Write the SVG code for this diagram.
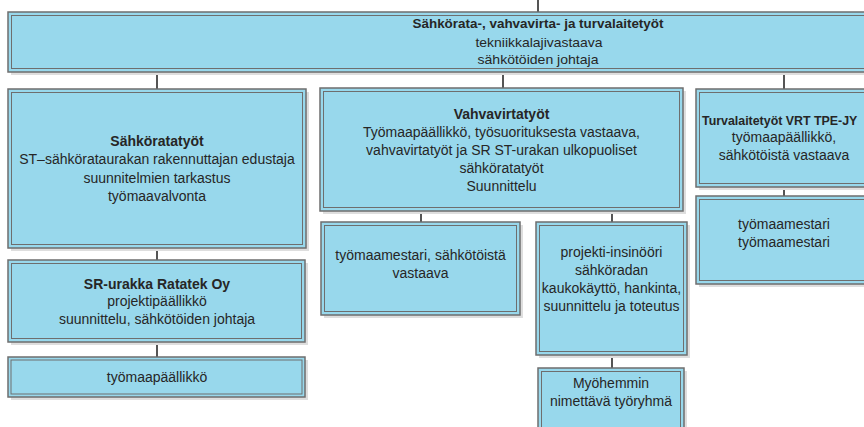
<svg xmlns="http://www.w3.org/2000/svg" width="864" height="427" viewBox="0 0 864 427">
<style>
.sh{fill:#dedede}
.o{fill:#98d8ec;stroke:#6e6e6e;stroke-width:1.5}
.i{fill:none;stroke:#6e6e6e;stroke-width:1}
text{font-family:"Liberation Sans",Arial,sans-serif;font-size:14px;fill:#262626;text-anchor:middle}
.b{font-weight:bold}
.c line{stroke:#555;stroke-width:2}
</style>
<rect width="864" height="427" fill="#fff"/>
<g class="c" id="connectors">
<line x1="538" y1="0" x2="538" y2="12"/>
<line x1="157" y1="72" x2="157" y2="89"/>
<line x1="503" y1="72" x2="503" y2="88"/>
<line x1="784" y1="72" x2="784" y2="89"/>
<line x1="157" y1="248" x2="157" y2="260"/>
<line x1="157" y1="342" x2="157" y2="357"/>
<line x1="421" y1="211" x2="421" y2="222"/>
<line x1="612" y1="211" x2="612" y2="222"/>
<line x1="612" y1="355" x2="612" y2="368"/>
<line x1="784" y1="187" x2="784" y2="196"/>
</g>
<g id="top">
<rect class="sh" x="11" y="15" width="1060" height="60"/>
<rect class="o" x="8" y="12" width="1060" height="60"/>
<rect class="i" x="11.5" y="15.5" width="1053" height="53"/>
<text class="b" x="538" y="27.5" style="font-size:13.5px" textLength="251" lengthAdjust="spacingAndGlyphs">Sähkörata-, vahvavirta- ja turvalaitetyöt</text>
<text x="539" y="46.5" style="font-size:13.5px" textLength="127" lengthAdjust="spacingAndGlyphs">tekniikkalajivastaava</text>
<text x="538" y="64" style="font-size:13.5px" textLength="121" lengthAdjust="spacingAndGlyphs">sähkötöiden johtaja</text>
</g>
<g id="sahkoratatyot">
<rect class="sh" x="11" y="92" width="298" height="159"/>
<rect class="o" x="8" y="89" width="298" height="159"/>
<rect class="i" x="11.5" y="92.5" width="291" height="152"/>
<text class="b" x="157" y="146">Sähköratatyöt</text>
<text x="157" y="164">ST–sähkörataurakan rakennuttajan edustaja</text>
<text x="157" y="182.5">suunnitelmien tarkastus</text>
<text x="157" y="200.5">työmaavalvonta</text>
</g>
<g id="sr-urakka">
<rect class="sh" x="11" y="263" width="297" height="82"/>
<rect class="o" x="8" y="260" width="297" height="82"/>
<rect class="i" x="11.5" y="263.5" width="290" height="75"/>
<text class="b" x="157" y="288.5">SR-urakka Ratatek Oy</text>
<text x="157" y="306">projektipäällikkö</text>
<text x="157" y="324">suunnittelu, sähkötöiden johtaja</text>
</g>
<g id="tyomaapaallikko">
<rect class="sh" x="11" y="360" width="297" height="40"/>
<rect class="o" x="8" y="357" width="297" height="40"/>
<rect class="i" x="11" y="360" width="291" height="34"/>
<text x="157" y="381.5">työmaapäällikkö</text>
</g>
<g id="vahvavirtatyot">
<rect class="sh" x="323" y="91" width="363" height="123"/>
<rect class="o" x="320" y="88" width="363" height="123"/>
<rect class="i" x="323.5" y="91.5" width="356" height="116"/>
<text class="b" x="501.5" y="118.5">Vahvavirtatyöt</text>
<text x="501.5" y="137">Työmaapäällikkö, työsuorituksesta vastaava,</text>
<text x="501.5" y="155">vahvavirtatyöt ja SR ST-urakan ulkopuoliset</text>
<text x="501.5" y="173">sähköratatyöt</text>
<text x="501.5" y="191">Suunnittelu</text>
</g>
<g id="tyomaamestari-vv">
<rect class="sh" x="324" y="225" width="199" height="93"/>
<rect class="o" x="321" y="222" width="199" height="93"/>
<rect class="i" x="324.5" y="225.5" width="192" height="86"/>
<text x="420.5" y="259.5">työmaamestari, sähkötöistä</text>
<text x="420.5" y="277.5">vastaava</text>
</g>
<g id="projekti-insinoori">
<rect class="sh" x="539" y="225" width="151" height="133"/>
<rect class="o" x="536" y="222" width="151" height="133"/>
<rect class="i" x="539.5" y="225.5" width="144" height="126"/>
<text x="611.5" y="257">projekti-insinööri</text>
<text x="611.5" y="275">sähköradan</text>
<text x="611.5" y="293">kaukokäyttö, hankinta,</text>
<text x="611.5" y="311">suunnittelu ja toteutus</text>
</g>
<g id="myohemmin">
<rect class="sh" x="541" y="371" width="146" height="70"/>
<rect class="o" x="538" y="368" width="146" height="70"/>
<rect class="i" x="541.5" y="371.5" width="139" height="63"/>
<text x="611" y="387.5">Myöhemmin</text>
<text x="611" y="405.5">nimettävä työryhmä</text>
</g>
<g id="turvalaitetyot">
<rect class="sh" x="699" y="92" width="176" height="98"/>
<rect class="o" x="696" y="89" width="176" height="98"/>
<rect class="i" x="699.5" y="92.5" width="169" height="91"/>
<text class="b" x="702" y="124.5" style="font-size:12.4px;text-anchor:start">Turvalaitetyöt VRT TPE-JY</text>
<text x="784" y="142">työmaapäällikkö,</text>
<text x="784" y="160">sähkötöistä vastaava</text>
</g>
<g id="tyomaamestari-tl">
<rect class="sh" x="699" y="199" width="176" height="88"/>
<rect class="o" x="696" y="196" width="176" height="88"/>
<rect class="i" x="699.5" y="199.5" width="169" height="81"/>
<text x="784" y="228.5">työmaamestari</text>
<text x="784" y="246.5">työmaamestari</text>
</g>
</svg>
